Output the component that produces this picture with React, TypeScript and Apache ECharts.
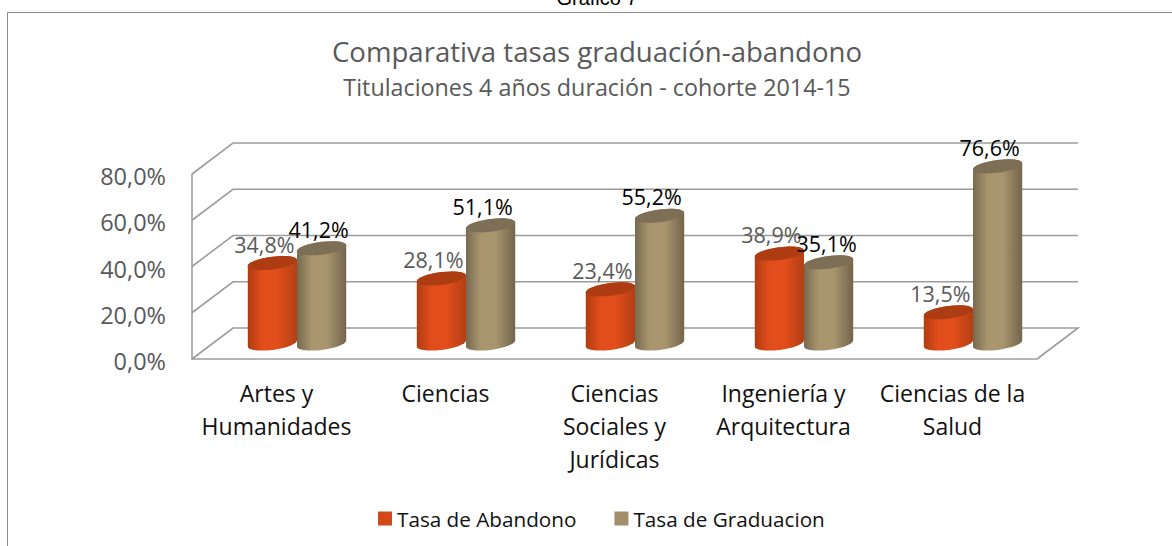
import React, { useEffect, useRef } from "react";
import * as echarts from "echarts";

const categories = ["Artes y\nHumanidades", "Ciencias", "Ciencias\nSociales y\nJurídicas", "Ingeniería y\nArquitectura", "Ciencias de la\nSalud"];
const abandono = [34.8, 28.1, 23.4, 38.9, 13.5];
const graduacion = [41.2, 51.1, 55.2, 35.1, 76.6];
const ticks = [0, 20, 40, 60, 80];

const FONT = "'Open Sans', sans-serif";
const DEPTH_X = 41;
const DEPTH_Y = 31;
const R_X = 24.6;
const R_Y = 6.4;
const SHEAR = 3;
const K = 0.5523;
const WALL = "#9c9c9c";

const fmt = (v: number) => v.toFixed(1).replace(".", ",") + "%";

function gradient(edge: string, mid: string, dark: string) {
  return new echarts.graphic.LinearGradient(0, 0, 1, 0, [
    { offset: 0, color: edge },
    { offset: 0.3, color: mid },
    { offset: 0.6, color: mid },
    { offset: 1, color: dark },
  ]);
}

function cylinder(side: number, body: any, top: string) {
  return (_: any, api: any) => {
    const i = api.value(0);
    const v = api.value(1);
    const base = api.coord([i, 0]);
    const head = api.coord([i, v]);
    const cx = base[0] + DEPTH_X / 2 + side * R_X;
    const by = base[1] - DEPTH_Y / 2;
    const ty = head[1] - DEPTH_Y / 2;
    const a = R_X;
    const b = R_Y;
    const t = SHEAR;
    const lx = cx - a;
    const rx = cx + a;
    // lower half of the sheared ellipse, right to left or left to right
    const lowerLR = (cy: number) =>
      `C ${lx} ${cy + t + K * b} ${cx - K * a} ${cy + b + K * t} ${cx} ${cy + b} ` +
      `C ${cx + K * a} ${cy + b - K * t} ${rx} ${cy - t + K * b} ${rx} ${cy - t}`;
    const upperRL = (cy: number) =>
      `C ${rx} ${cy - t - K * b} ${cx + K * a} ${cy - b - K * t} ${cx} ${cy - b} ` +
      `C ${cx - K * a} ${cy - b + K * t} ${lx} ${cy + t - K * b} ${lx} ${cy + t}`;
    const d = `M ${lx} ${ty + t} L ${lx} ${by + t} ${lowerLR(by)} L ${rx} ${ty - t} ${upperRL(ty)} Z`;
    const lid = `M ${lx} ${ty + t} ${lowerLR(ty)} ${upperRL(ty)} Z`;
    return {
      type: "group",
      children: [
        { type: "path", shape: { pathData: d }, style: { fill: body } },
        { type: "path", shape: { pathData: lid }, style: { fill: top } },
      ],
    };
  };
}

const renderWalls = (params: any, api: any) => {
  const cs = params.coordSys;
  const left = cs.x;
  const right = cs.x + cs.width;
  const y = api.coord([0, api.value(0)])[1];
  const points = [
    [left, y],
    [left + DEPTH_X, y - DEPTH_Y],
    [right + DEPTH_X, y - DEPTH_Y],
  ];
  if (api.value(0) === ticks[0]) points.push([right, y]);
  return {
    type: "polyline",
    shape: { points },
    style: { stroke: WALL, lineWidth: 1.6, fill: "none" },
  };
};

const labelNudge: Record<string, number> = { "1-0": 5, "1-3": 6 };

const renderLabel = (_: any, api: any) => {
  const i = api.value(0);
  const v = api.value(1);
  const side = api.value(2);
  const head = api.coord([i, v]);
  const cx = head[0] + DEPTH_X / 2 + (side ? R_X : -R_X);
  const nudge = labelNudge[`${side}-${i}`] || 0;
  return {
    type: "text",
    style: {
      x: cx - 8 + nudge,
      y: head[1] - DEPTH_Y / 2 - 19,
      text: fmt(v),
      fill: side ? "#000000" : "#595959",
      font: `21.5px ${FONT}`,
      align: "center",
      verticalAlign: "middle",
    },
  };
};

export default function App() {
  const ref = useRef<HTMLDivElement>(null);
  useEffect(() => {
    const chart = echarts.init(ref.current!, null, { renderer: "svg" });
    chart.setOption({
      animation: false,
      backgroundColor: "#ffffff",
      title: {
        text: "Comparativa tasas graduación-abandono",
        subtext: "Titulaciones 4 años duración - cohorte 2014-15",
        left: 592,
        top: 32,
        textAlign: "center",
        itemGap: 10,
        textStyle: { fontFamily: FONT, fontSize: 27.6, fontWeight: "normal", color: "#595959" },
        subtextStyle: { fontFamily: FONT, fontSize: 23.3, color: "#595959" },
      },
      legend: {
        left: 373,
        top: 503,
        data: ["Tasa de Abandono", "Tasa de Graduacion"],
        icon: "rect",
        itemWidth: 14,
        itemHeight: 14,
        itemGap: 38,
        textStyle: { fontFamily: FONT, fontSize: 20.7, color: "#111111" },
      },
      grid: { left: 192, right: 135, top: 174, height: 185, containLabel: false },
      xAxis: {
        type: "category",
        data: categories,
        axisTick: { show: false },
        axisLine: { lineStyle: { color: WALL, width: 1.6 } },
        axisLabel: { fontFamily: FONT, fontSize: 23, color: "#111111", lineHeight: 33, margin: 17, interval: 0 },
      },
      yAxis: {
        type: "value",
        min: 0,
        max: 80,
        interval: 20,
        splitLine: { show: false },
        axisTick: { show: false },
        axisLine: { show: true, lineStyle: { color: WALL, width: 1.6 } },
        axisLabel: { fontFamily: FONT, fontSize: 23.5, color: "#595959", margin: 26, verticalAlign: "top", lineHeight: 4, formatter: fmt },
      },
      graphic: [
        { type: "line", shape: { x1: 7.5, y1: 12.5, x2: 1172, y2: 12.5 }, style: { stroke: "#8c8c8c", lineWidth: 1 } },
        { type: "line", shape: { x1: 7.5, y1: 12.5, x2: 7.5, y2: 546 }, style: { stroke: "#8c8c8c", lineWidth: 1 } },
        { type: "text", x: 597, y: 8, style: { text: "Gráfico 7", font: "20px 'Liberation Sans', Arial, sans-serif", fill: "#000000", align: "center", verticalAlign: "bottom" } },
      ],
      series: [
        { type: "custom", name: "walls", silent: true, z: 1, data: ticks.map((t) => [t]), encode: { y: 0 }, renderItem: renderWalls, clip: false },
        {
          type: "custom",
          name: "Tasa de Abandono",
          z: 2,
          clip: false,
          itemStyle: { color: "#D34817" },
          data: abandono.map((v, i) => [i, v]),
          encode: { x: 0, y: 1 },
          renderItem: cylinder(-1, gradient("#b03c12", "#e24e1b", "#b33f14"), "#ad3c12"),
        },
        {
          type: "custom",
          name: "Tasa de Graduacion",
          z: 3,
          clip: false,
          itemStyle: { color: "#A28E6A" },
          data: graduacion.map((v, i) => [i, v]),
          encode: { x: 0, y: 1 },
          renderItem: cylinder(1, gradient("#78694f", "#a9966f", "#73654c"), "#7d6f55"),
        },
        {
          type: "custom",
          name: "labels",
          silent: true,
          z: 5,
          clip: false,
          data: [...abandono.map((v, i) => [i, v, 0]), ...graduacion.map((v, i) => [i, v, 1])],
          encode: { x: 0, y: 1 },
          renderItem: renderLabel,
        },
      ],
    });
    return () => chart.dispose();
  }, []);
  return <div ref={ref} style={{ position: "absolute", left: 0, top: 0, width: 1172, height: 546, overflow: "hidden" }} />;
}
